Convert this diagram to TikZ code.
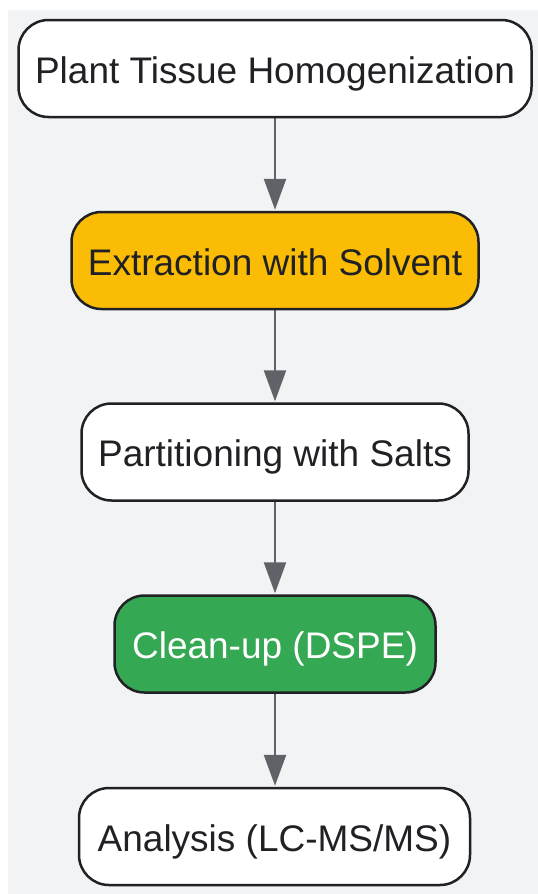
\documentclass[tikz,border=0pt]{standalone}
\usepackage{fontspec}
\setmainfont{Liberation Sans}
\usepackage{tikz}
\definecolor{bggrey}{RGB}{241,243,244}
\definecolor{edgegrey}{RGB}{95,99,104}
\definecolor{darkline}{RGB}{32,33,36}
\definecolor{gyellow}{RGB}{251,188,5}
\definecolor{ggreen}{RGB}{52,168,83}
\usetikzlibrary{arrows.meta}
\pgfdeclarelayer{edgelayer}
\pgfdeclarelayer{nodelayer}
\pgfsetlayers{main,edgelayer,nodelayer}
\tikzstyle{stepbox}=[rectangle,rounded corners=30pt,fill=white,draw=darkline,line width=2.5pt,minimum height=97pt,inner xsep=0pt,text height=30pt,text depth=1pt,text=darkline,font=\fontsize{37}{44}\selectfont]
\tikzstyle{flow}=[-{Triangle[width=22pt,length=31pt]},draw=edgegrey,line width=2.5pt,shorten >=1pt]

\begin{document}
\begin{tikzpicture}[x=1pt,y=-1pt]
        \useasboundingbox (0,0) rectangle (538,894);
        \fill [bggrey] (8,10) rectangle (538,894);

        \begin{pgfonlayer}{nodelayer}
            \node [style = stepbox, minimum width=513pt] (homog) at (275, 68.5) {Plant Tissue Homogenization};
            \node [style = stepbox, minimum width=407pt, fill=gyellow] (extract) at (275, 260.5) {Extraction with Solvent};
            \node [style = stepbox, minimum width=387pt] (partition) at (275, 452) {Partitioning with Salts};
            \node [style = stepbox, minimum width=321pt, fill=ggreen, text=white] (cleanup) at (275, 644) {Clean-up (DSPE)};
            \node [style = stepbox, minimum width=391pt] (analysis) at (274.5, 836.5) {Analysis (LC-MS/MS)};
        \end{pgfonlayer}

        \begin{pgfonlayer}{edgelayer}
            \draw [style = flow] (homog) to (extract);
            \draw [style = flow] (extract) to (partition);
            \draw [style = flow] (partition) to (cleanup);
            \draw [style = flow] (cleanup) to (analysis.north -| cleanup.south);
        \end{pgfonlayer}
    \end{tikzpicture}
\end{document}
